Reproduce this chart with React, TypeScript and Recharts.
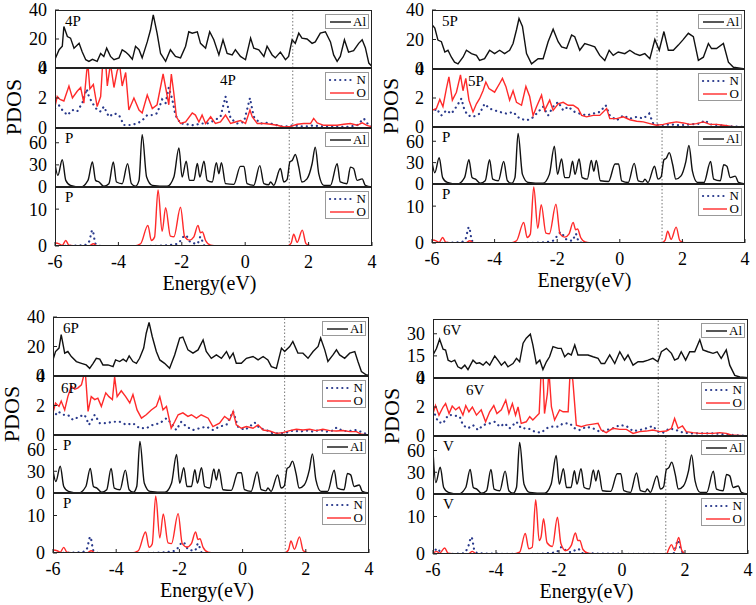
import { LineChart, Line, XAxis, YAxis, ReferenceLine } from 'recharts'

type Pt = [number, number]

const energyTicks = [-6, -4, -2, 0, 2, 4]

// top row: Al PDOS of the doped cells
const al4P: Pt[] = [[-6,6],[-5.87,12.6],[-5.77,15],[-5.72,28.6],[-5.61,21.7],[-5.51,20.6],[-5.4,13.7],[-5.24,17],[-5.14,11],[-5.03,5.7],[-4.93,4.6],[-4.82,6],[-4.67,4.6],[-4.56,10],[-4.46,8],[-4.37,13.7],[-4.25,8],[-4.14,5.7],[-3.98,7],[-3.88,12.6],[-3.77,11],[-3.67,9],[-3.56,6],[-3.46,15],[-3.35,12.6],[-3.25,7],[-3.09,18],[-2.99,26],[-2.9,36.6],[-2.78,24],[-2.67,10],[-2.51,4.6],[-2.36,12.6],[-2.2,8],[-2.04,7],[-1.88,15],[-1.78,25],[-1.67,24],[-1.51,25],[-1.41,17],[-1.25,13.7],[-1.12,25],[-0.99,19.5],[-0.83,9],[-0.7,19.5],[-0.57,10],[-0.41,9],[-0.31,12.6],[-0.15,8],[0.01,5.7],[0.17,20.6],[0.27,13.7],[0.43,12.6],[0.59,8],[0.69,15],[0.85,9],[0.95,7],[1.11,11],[1.27,5.7],[1.37,8],[1.48,19.5],[1.58,17],[1.69,24],[1.79,20.6],[1.95,20],[2.11,17],[2.21,18],[2.37,24],[2.53,25],[2.69,18],[2.79,9],[2.9,4.6],[3,8],[3.13,19.5],[3.26,11],[3.42,12],[3.58,17],[3.69,19.5],[3.79,14],[3.9,3.4],[4,1]]
const al5P: Pt[] = [[-6,30],[-5.91,27.7],[-5.81,19.6],[-5.7,18.5],[-5.59,11.5],[-5.49,12.7],[-5.38,8],[-5.28,4.6],[-5.17,3.5],[-5.01,8],[-4.9,12.7],[-4.74,10.4],[-4.58,9.2],[-4.48,5.8],[-4.32,7],[-4.16,12.7],[-4,10.4],[-3.84,12.7],[-3.68,10.4],[-3.52,12.7],[-3.41,17.3],[-3.3,26.6],[-3.22,34.2],[-3.11,28.9],[-2.98,10.4],[-2.82,3.5],[-2.61,7],[-2.45,7],[-2.29,18.5],[-2.13,27],[-1.97,18.5],[-1.86,15],[-1.7,13.9],[-1.54,23],[-1.44,21.9],[-1.28,12.7],[-1.12,17.3],[-0.96,16.2],[-0.8,15],[-0.64,9.2],[-0.48,5.8],[-0.34,12.7],[-0.21,9.2],[-0.05,11.5],[0.16,10.4],[0.32,12.7],[0.48,10.4],[0.64,9.2],[0.8,10.4],[0.96,7],[1.12,20],[1.26,12.7],[1.41,25.4],[1.55,12.7],[1.71,12.7],[1.87,16.2],[2.01,19.6],[2.19,24.2],[2.35,21.9],[2.51,5.8],[2.67,8],[2.83,17.3],[2.93,13.9],[3.09,13.9],[3.31,17.3],[3.47,4.6],[3.63,1.2],[3.84,0.5],[4,0]]
const al6P: Pt[] = [[-6,10.9],[-5.92,16.6],[-5.81,18.9],[-5.74,28],[-5.63,15.5],[-5.53,16.6],[-5.42,13.2],[-5.26,9.8],[-5.1,8.6],[-4.95,7.5],[-4.84,5.2],[-4.73,8.6],[-4.63,12],[-4.52,11.4],[-4.42,7.5],[-4.26,7.5],[-4.1,6.4],[-4.02,10.9],[-3.89,9.8],[-3.78,11.4],[-3.68,9.8],[-3.59,13.6],[-3.47,9.8],[-3.36,8.6],[-3.26,12],[-3.13,18.9],[-3.05,29],[-2.96,36.4],[-2.86,26.8],[-2.73,16.6],[-2.62,10.9],[-2.47,8.6],[-2.31,5.2],[-2.15,14.3],[-1.99,25.7],[-1.89,26.4],[-1.73,17.7],[-1.57,15.5],[-1.41,17.7],[-1.25,24.5],[-1.15,16.6],[-0.99,12],[-0.83,14.3],[-0.67,12],[-0.51,16.6],[-0.41,12],[-0.3,15.5],[-0.2,8.6],[-0.04,8.6],[0.12,12],[0.33,13.2],[0.49,10.9],[0.65,13.2],[0.8,10.9],[0.91,6.4],[1.07,5.2],[1.23,18.9],[1.33,16.6],[1.49,20],[1.59,23.4],[1.75,15.5],[1.91,15.5],[2.07,12],[2.23,16.6],[2.39,20],[2.47,25.7],[2.6,17.7],[2.7,9.8],[2.86,14.3],[2.97,17.7],[3.07,14.3],[3.23,12],[3.39,15.5],[3.55,16.6],[3.65,9.8],[3.76,3],[3.92,0.7],[4,0.5]]
const al6V: Pt[] = [[-6,15.6],[-5.89,20],[-5.79,26.3],[-5.68,19.5],[-5.6,19],[-5.52,12.1],[-5.42,11],[-5.31,12.1],[-5.21,7.6],[-5.1,6.4],[-4.99,8.7],[-4.89,5.7],[-4.73,12.1],[-4.62,9.8],[-4.52,10.3],[-4.41,8.7],[-4.31,11],[-4.2,8.7],[-4.04,14.9],[-3.94,12.1],[-3.83,8.7],[-3.72,11],[-3.62,7.6],[-3.46,9.8],[-3.35,13.3],[-3.25,11],[-3.14,23.6],[-3.04,27],[-2.91,29.7],[-2.83,22.4],[-2.72,9.8],[-2.61,12.1],[-2.51,5.7],[-2.4,11],[-2.3,14.4],[-2.19,21.3],[-2.03,20.1],[-1.93,20.1],[-1.82,14.4],[-1.71,16.7],[-1.61,15.6],[-1.5,22.4],[-1.4,15.6],[-1.24,15.6],[-1.08,15.6],[-0.92,14.4],[-0.76,13.3],[-0.66,9.8],[-0.55,9.8],[-0.39,15.6],[-0.23,9.8],[-0.07,17.8],[0.08,12.1],[0.19,15.6],[0.35,8.7],[0.51,11],[0.67,11],[0.83,12.1],[0.98,13.3],[1.14,11],[1.25,17.8],[1.41,20.1],[1.57,16.7],[1.67,12.1],[1.78,13.3],[1.88,17.8],[2.02,12.1],[2.15,17.8],[2.31,17.8],[2.47,25.9],[2.57,19],[2.73,17.8],[2.89,16.7],[3.02,17.8],[3.15,13.3],[3.31,19],[3.42,8.7],[3.58,1.8],[3.74,0.7],[4,0.2]]

// second row: N and O PDOS of the doped cells
const o4P: Pt[] = [[-6,1.43],[-5.93,2.1],[-5.84,1.9],[-5.72,1.8],[-5.56,2.8],[-5.45,2],[-5.3,2.45],[-5.19,2.7],[-5.09,1.66],[-5,3.8],[-4.96,4.2],[-4.9,2.6],[-4.79,2.9],[-4.67,1.43],[-4.56,2.1],[-4.49,4.5],[-4.4,4.3],[-4.35,2.8],[-4.25,4.3],[-4.14,2.7],[-4.04,3.8],[-3.96,4.2],[-3.88,2.8],[-3.77,3.7],[-3.67,1.2],[-3.51,2],[-3.35,1.2],[-3.25,1],[-3.09,2.2],[-2.93,1.3],[-2.78,1.55],[-2.59,3.6],[-2.51,2.7],[-2.41,1.55],[-2.33,3.6],[-2.25,2.3],[-2.17,0.75],[-2.04,0.3],[-1.88,0.4],[-1.67,1],[-1.57,0.86],[-1.46,0.4],[-1.36,0.86],[-1.25,0.3],[-1.09,0.75],[-0.94,0.3],[-0.78,0.4],[-0.62,0.86],[-0.46,0.3],[-0.31,0.4],[-0.15,0.5],[0.01,0.3],[0.15,1.2],[0.22,0.75],[0.38,0.3],[0.59,0.3],[0.8,0.25],[1.01,0.18],[1.22,0.07],[1.43,0.11],[1.64,0.25],[1.85,0.3],[2.06,0.3],[2.16,0.64],[2.27,0.34],[2.48,0.18],[2.69,0.18],[2.9,0.18],[3.11,0.25],[3.32,0.3],[3.53,0.18],[3.69,0.34],[3.84,0.18],[4,0.07]]
const n4P: Pt[] = [[-6,1.3],[-5.87,1.5],[-5.77,1.2],[-5.61,0.86],[-5.45,1.2],[-5.3,1.1],[-5.14,1.66],[-5,2.6],[-4.93,2.1],[-4.82,1.66],[-4.67,1.2],[-4.56,1.1],[-4.46,1.43],[-4.3,0.75],[-4.14,0.98],[-3.98,0.86],[-3.83,0.2],[-3.62,0.2],[-3.41,0.3],[-3.25,0.5],[-3.09,0.86],[-2.93,0.86],[-2.78,0.98],[-2.62,1.9],[-2.51,1.66],[-2.41,2.7],[-2.3,1.9],[-2.2,0.86],[-2.04,0.3],[-1.83,0.25],[-1.62,0.18],[-1.41,0.3],[-1.2,0.3],[-0.99,0.48],[-0.78,0.75],[-0.62,2.1],[-0.46,0.64],[-0.25,0.3],[-0.04,0.4],[0.15,2],[0.27,0.75],[0.48,0.3],[0.69,0.34],[0.9,0.25],[1.11,0.11],[1.32,0.11],[1.53,0.18],[1.74,0.11],[1.95,0.11],[2.16,0.18],[2.37,0.11],[2.69,0.11],[2.9,0.07],[3.21,0.07],[3.53,0.18],[3.74,0.64],[3.9,0.18],[4,0.07]]
const o5P: Pt[] = [[-6,1.15],[-5.86,1.27],[-5.75,1.9],[-5.65,1.4],[-5.54,2.65],[-5.46,3.45],[-5.35,1.85],[-5.22,2.4],[-5.09,3.6],[-5.01,2.5],[-4.92,3.35],[-4.82,1.85],[-4.69,1.04],[-4.58,1.6],[-4.48,1.95],[-4.37,2.5],[-4.28,3.1],[-4.18,2.65],[-4,2.4],[-3.84,3],[-3.75,3.35],[-3.64,2.8],[-3.52,1.85],[-3.41,2.5],[-3.3,1.7],[-3.14,1.5],[-3,2.8],[-2.88,2.1],[-2.77,0.8],[-2.66,1.4],[-2.5,2.2],[-2.4,1.15],[-2.24,1.85],[-2.13,1.15],[-1.97,1.6],[-1.81,1.7],[-1.65,1.5],[-1.49,1.5],[-1.33,1.27],[-1.22,0.8],[-1.06,0.7],[-0.85,0.8],[-0.64,0.8],[-0.42,1.27],[-0.32,0.58],[-0.1,0.58],[0.11,0.7],[0.32,0.5],[0.54,0.4],[0.75,0.35],[0.96,0.23],[1.17,0.12],[1.39,0.18],[1.6,0.28],[1.81,0.35],[2.03,0.28],[2.24,0.18],[2.45,0.23],[2.67,0.35],[2.88,0.18],[3.09,0.18],[3.31,0.12],[3.52,0.05],[3.73,0],[4,0]]
const n5P: Pt[] = [[-6,0.92],[-5.86,1.27],[-5.7,0.8],[-5.54,1.15],[-5.38,0.92],[-5.22,1.4],[-5.06,1.96],[-4.96,1.15],[-4.85,0.8],[-4.69,0.7],[-4.48,0.92],[-4.32,1.6],[-4.16,1.27],[-4,1.15],[-3.84,1.04],[-3.62,0.92],[-3.41,1.04],[-3.2,0.58],[-2.98,0.46],[-2.82,0.58],[-2.66,0.92],[-2.45,1.4],[-2.29,0.8],[-2.13,1.4],[-1.97,1.73],[-1.81,1.15],[-1.65,1.4],[-1.44,1.04],[-1.28,0.92],[-1.06,0.8],[-0.85,0.92],[-0.64,1.04],[-0.45,1.5],[-0.32,0.8],[-0.1,0.46],[0.11,0.8],[0.32,0.58],[0.54,0.7],[0.75,0.58],[0.94,0.92],[1.07,0.23],[1.28,0.12],[1.6,0.18],[1.92,0.12],[2.24,0.18],[2.56,0.23],[2.72,0.46],[2.88,0.18],[3.2,0.12],[3.52,0.05],[4,0]]
const o6P: Pt[] = [[-6,1.5],[-5.92,2.17],[-5.81,1.94],[-5.74,2.3],[-5.63,1.7],[-5.53,2.6],[-5.42,3.3],[-5.31,3.1],[-5.21,3.2],[-5.1,3.4],[-5.03,4],[-4.97,4.05],[-4.89,1.6],[-4.79,2.6],[-4.68,2.4],[-4.58,2.5],[-4.47,1.94],[-4.33,2.86],[-4.23,2.6],[-4.12,2.4],[-4.05,3.95],[-3.97,2.6],[-3.84,3],[-3.7,2.6],[-3.57,2.17],[-3.47,2.74],[-3.34,1.7],[-3.2,1.14],[-3.05,1.37],[-2.89,1.7],[-2.73,1.94],[-2.62,2.6],[-2.52,1.7],[-2.41,1.94],[-2.26,0.46],[-2.15,0.9],[-2.04,1.37],[-1.89,1.5],[-1.73,1.26],[-1.62,1.37],[-1.46,1.14],[-1.31,1.37],[-1.09,1.14],[-0.94,0.57],[-0.73,0.8],[-0.57,1.26],[-0.41,1],[-0.3,1.6],[-0.2,0.69],[-0.04,0.46],[0.12,0.57],[0.33,0.46],[0.49,0.69],[0.65,0.34],[0.86,0.27],[1.07,0.11],[1.28,0.16],[1.49,0.3],[1.7,0.39],[1.91,0.34],[2.12,0.39],[2.33,0.3],[2.54,0.39],[2.76,0.3],[2.97,0.27],[3.18,0.3],[3.39,0.23],[3.6,0.23],[3.76,0.05],[4,0]]
const n6P: Pt[] = [[-6,1.14],[-5.84,1.6],[-5.68,1.37],[-5.53,1.37],[-5.37,1.03],[-5.16,1.26],[-5,1.37],[-4.86,0.69],[-4.68,1.37],[-4.52,0.8],[-4.31,0.8],[-4.1,0.9],[-3.89,0.9],[-3.68,0.69],[-3.47,0.8],[-3.26,0.46],[-3.05,0.46],[-2.84,0.69],[-2.62,0.8],[-2.41,1.14],[-2.26,0.8],[-2.1,0.34],[-1.94,0.9],[-1.78,0.57],[-1.57,0.34],[-1.36,0.46],[-1.15,0.57],[-0.94,0.34],[-0.73,0.57],[-0.51,0.69],[-0.3,1.6],[-0.15,0.57],[0.07,0.34],[0.22,0.57],[0.38,0.85],[0.54,0.46],[0.75,0.34],[0.96,0.11],[1.17,0.11],[1.38,0.16],[1.59,0.3],[1.81,0.23],[2.02,0.3],[2.23,0.23],[2.44,0.34],[2.65,0.23],[2.86,0.3],[2.97,0.5],[3.18,0.27],[3.39,0.27],[3.6,0.34],[4,0]]
const o6V: Pt[] = [[-6,1.55],[-5.92,2.1],[-5.81,1.44],[-5.68,2],[-5.6,2.24],[-5.49,1.55],[-5.39,2.06],[-5.28,1.8],[-5.17,2],[-5.05,1.44],[-4.96,2.1],[-4.86,1.67],[-4.75,2],[-4.62,1.44],[-4.47,1.8],[-4.33,0.98],[-4.2,1.67],[-4.07,2.1],[-3.97,1.55],[-3.83,1.8],[-3.69,2.47],[-3.59,1.55],[-3.48,2.24],[-3.38,1.44],[-3.3,2],[-3.2,0.87],[-3.04,0.98],[-2.93,1.33],[-2.83,1.1],[-2.63,1.55],[-2.56,4.75],[-2.51,4.5],[-2.46,1.55],[-2.37,2.9],[-2.32,4.5],[-2.24,2],[-2.14,1.1],[-1.98,1.8],[-1.87,1.67],[-1.71,1.67],[-1.64,4.75],[-1.56,3.8],[-1.45,0.75],[-1.29,0.64],[-1.13,0.75],[-0.92,0.82],[-0.76,0.87],[-0.66,0.41],[-0.5,0.23],[-0.29,0.53],[-0.07,0.46],[0.14,0.46],[0.35,0.18],[0.56,0.3],[0.77,0.34],[0.98,0.41],[1.2,0.3],[1.41,0.34],[1.57,0.53],[1.67,1.21],[1.78,0.53],[1.92,0.69],[2.04,0.3],[2.25,0.23],[2.47,0.18],[2.68,0.18],[2.89,0.18],[3.1,0.23],[3.31,0.18],[3.47,0.07],[4,0]]
const n6V: Pt[] = [[-6,1.8],[-5.84,0.98],[-5.68,0.87],[-5.52,1.44],[-5.37,1.44],[-5.15,1.33],[-5.05,0.75],[-4.89,0.53],[-4.73,0.75],[-4.57,0.41],[-4.41,0.75],[-4.2,0.87],[-4.04,0.98],[-3.88,0.64],[-3.72,0.87],[-3.57,0.53],[-3.35,0.98],[-3.2,0.53],[-2.98,0.53],[-2.77,0.3],[-2.56,0.23],[-2.4,0.53],[-2.24,0.64],[-2.03,0.64],[-1.87,0.87],[-1.66,0.87],[-1.5,0.53],[-1.34,0.41],[-1.13,0.64],[-0.92,0.53],[-0.71,0.3],[-0.5,0.41],[-0.29,0.53],[-0.07,0.75],[0.14,0.69],[0.35,0.34],[0.56,0.41],[0.77,0.53],[0.98,0.69],[1.14,0.3],[1.3,0.23],[1.51,0.53],[1.72,0.41],[1.94,0.23],[2.25,0.18],[2.89,0.18],[3.52,0.07],[4,0]]

// lower two rows: reference cell (P) and V
const alP: Pt[] = [[-6,31.5],[-5.91,15.8],[-5.77,37],[-5.66,9],[-5.51,2.2],[-5.19,0],[-4.96,9],[-4.82,34],[-4.72,9],[-4.61,6.8],[-4.46,1],[-4.3,4.5],[-4.16,34],[-4.06,6.8],[-3.88,4.5],[-3.71,31.5],[-3.59,4.5],[-3.46,1],[-3.35,9],[-3.25,71],[-3.11,13.5],[-2.93,2.2],[-2.46,1],[-2.25,13.5],[-2.09,53],[-1.99,13.5],[-1.86,35],[-1.76,9],[-1.62,9],[-1.51,32],[-1.43,13.5],[-1.3,35],[-1.2,9],[-1.04,6.8],[-0.91,33],[-0.83,18],[-0.75,33],[-0.62,4.5],[-0.36,3.6],[-0.15,28],[-0.04,28],[0.06,4.5],[0.27,2.2],[0.46,29],[0.59,4.5],[0.74,3],[0.8,6.8],[0.9,2.2],[1.11,25],[1.22,6.8],[1.32,9.9],[1.41,34],[1.48,36],[1.58,44],[1.69,27],[1.79,6.8],[1.95,11],[2.11,31.5],[2.21,54],[2.32,18],[2.48,2.2],[2.69,2.2],[2.9,31.5],[3,6.8],[3.21,4.5],[3.32,27],[3.42,25],[3.53,9],[3.69,11],[3.79,2.2],[4,0]]
const oP: Pt[] = [[-6,0.8],[-5.87,0.6],[-5.77,0.2],[-5.66,1.5],[-5.56,0.2],[-5.3,0],[-4.93,0],[-4.79,0.6],[-4.67,0],[-3.51,0],[-3.3,0.6],[-3.07,5.6],[-2.96,1.5],[-2.86,2.4],[-2.75,15.2],[-2.62,4],[-2.51,10.4],[-2.36,2.7],[-2.25,2.5],[-2.04,10.5],[-1.91,2.5],[-1.76,1.6],[-1.62,2.5],[-1.49,5.6],[-1.41,3.6],[-1.35,3.8],[-1.25,1.5],[-1.09,0.2],[-0.88,0],[1.32,0],[1.45,0.8],[1.53,3.2],[1.64,1],[1.8,4.3],[1.92,0.6],[2.11,0],[4,0]]
const nP: Pt[] = [[-6,0],[-5.09,0.2],[-4.93,1.1],[-4.82,4.3],[-4.72,0.6],[-4.56,0],[-3.2,0],[-2.46,0.2],[-2.14,0.6],[-1.88,2.9],[-1.73,1.1],[-1.51,0.6],[-1.41,2.5],[-1.3,0.2],[-0.99,0],[4,0]]
const alV: Pt[] = [[-6, 59], ...alP.slice(1)]
const oV: Pt[] = [[-6,0.2],[-5.89,0.7],[-5.79,0.2],[-5.63,1.6],[-5.52,0.2],[-5.26,0],[-4.89,0],[-4.75,0.7],[-4.62,0],[-3.46,0],[-3.25,0.5],[-3.07,5.5],[-2.96,1.4],[-2.85,1.8],[-2.74,14.5],[-2.63,3.6],[-2.57,4.5],[-2.49,9.4],[-2.38,3],[-2.21,2],[-2.05,9.8],[-1.94,2.8],[-1.79,0.9],[-1.61,2.3],[-1.48,5.6],[-1.4,3.6],[-1.34,3.6],[-1.24,1.2],[-1.08,0.2],[-0.81,0],[1.41,0],[1.49,1.4],[1.57,2.5],[1.67,0.9],[1.8,4.4],[1.9,0.9],[2.04,0],[4,0]]
const nV: Pt[] = [[-6,0],[-5.95,0.9],[-5.84,1.4],[-5.74,0],[-5.05,0.2],[-4.89,1.8],[-4.78,4.5],[-4.68,0.9],[-4.57,0.2],[-3.04,0],[-2.4,0.2],[-2.08,0.5],[-1.93,1.8],[-1.77,0.9],[-1.61,0.5],[-1.4,1.4],[-1.24,0.2],[1.62,0],[1.78,3.6],[1.88,0.9],[2.04,0],[4,0]]

// dotted marker (upper rows, lower rows)
const fermiUpper = [1.5, 1.19, 1.33, 1.15]
const fermiLower = [1.39, 1.35, 1.35, 1.39]

const FONT = '"Liberation Serif", "Times New Roman", serif'
const BLACK = '#111'
const RED = '#ff2a2a'
const BLUE = '#2a3a8c'
const DOTS = '0.1 5'
const YW = 44
const M = 10
const XH = 30

type Series = { data: Pt[]; color: string; dotted?: boolean }
type LegendItem = { label: string; color: string; dotted?: boolean }

const alLegend: LegendItem[] = [{ label: 'Al', color: BLACK }]
const noLegend: LegendItem[] = [
  { label: 'N', color: BLUE, dotted: true },
  { label: 'O', color: RED },
]

const panels = [
  { x0: 55, x1: 372, ys: [10, 68, 128, 187, 246], tag: '4P', tagX: 165, base: 'P', al: al4P, n: n4P, o: o4P, alR: alP, nR: nP, oR: oP, topTicks: [0, 20, 40] },
  { x0: 432, x1: 745, ys: [10, 69, 127, 184, 243], tag: '5P', tagX: 36, base: 'P', al: al5P, n: n5P, o: o5P, alR: alP, nR: nP, oR: oP, topTicks: [0, 20, 40] },
  { x0: 53, x1: 369, ys: [317, 376, 435, 493, 553], tag: '6P', tagX: 8, base: 'P', al: al6P, n: n6P, o: o6P, alR: alP, nR: nP, oR: oP, topTicks: [0, 20, 40] },
  { x0: 433, x1: 748, ys: [319, 378, 436, 494, 554], tag: '6V', tagX: 33, base: 'V', al: al6V, n: n6V, o: o6V, alR: alV, nR: nV, oR: oV, topTicks: [0, 15, 30] },
]

const tickStyle = { fill: '#000', fontSize: 18, fontFamily: FONT }

function Legend({ right, top, items }: { right: number; top: number; items: LegendItem[] }) {
  return (
    <div style={{ position: 'absolute', left: right - 47, top, width: 44, border: '1px solid #999', background: '#fff', padding: '0 2px', boxSizing: 'border-box' }}>
      {items.map((it) => (
        <div key={it.label} style={{ display: 'flex', alignItems: 'center', height: 13 }}>
          <svg width={27} height={8}>
            <line x1={2} x2={26} y1={4} y2={4} stroke={it.color} strokeWidth={it.dotted ? 2.2 : 1.4}
              strokeDasharray={it.dotted ? DOTS : undefined} strokeLinecap={it.dotted ? 'round' : 'butt'} />
          </svg>
          <span style={{ fontFamily: FONT, fontSize: 13, lineHeight: '13px', marginLeft: 2 }}>{it.label}</span>
        </div>
      ))}
    </div>
  )
}

function Sub(props: {
  x0: number; x1: number; y0: number; y1: number; series: Series[]; yMax: number; yTicks: number[]
  fermi: number; last: boolean; smooth: boolean
}) {
  const { x0, x1, y0, y1, series, yMax, yTicks, fermi, last, smooth } = props
  const w = x1 - x0
  const h = y1 - y0
  return (
    <div style={{ position: 'absolute', left: x0 - YW, top: y0 - M }}>
      <LineChart width={YW + w + 6} height={M + h + (last ? XH : M)}
        margin={{ top: M, right: 6, bottom: last ? 0 : M, left: 0 }}>
        <XAxis dataKey="e" type="number" domain={[-6, 4]} ticks={energyTicks} allowDataOverflow
          axisLine={false} tickSize={-4} tickMargin={13} tickLine={{ stroke: '#222' }}
          height={last ? XH : 0} tick={last ? tickStyle : false} interval={0} />
        <YAxis type="number" domain={[0, yMax]} ticks={yTicks} allowDataOverflow width={YW}
          axisLine={false} tickSize={-4} tickMargin={12} tickLine={{ stroke: '#222' }}
          tick={tickStyle} interval={0} />
        <ReferenceLine x={fermi} stroke="#777" strokeDasharray="1.5 2" />
        {series.map((s, i) => (
          <Line key={i} data={s.data.map(([e, v]) => ({ e, v }))} dataKey="v"
            type={smooth ? 'monotone' : 'linear'} stroke={s.color}
            strokeWidth={s.dotted ? 2.2 : 1.4} strokeDasharray={s.dotted ? DOTS : undefined}
            strokeLinecap="round" dot={false} activeDot={false} isAnimationActive={false} />
        ))}
      </LineChart>
      <div style={{ position: 'absolute', left: YW, top: M, width: w, height: h, border: '1px solid #222', boxSizing: 'border-box', pointerEvents: 'none' }} />
    </div>
  )
}

const tagStyle = { position: 'absolute' as const, fontFamily: FONT, fontSize: 15, lineHeight: '15px' }

export default function App() {
  return (
    <div style={{ position: 'absolute', left: 0, top: 0, width: 756, height: 605, background: '#fff', overflow: 'hidden' }}>
      {panels.map((p, k) => {
        const rows = [
          { series: [{ data: p.al, color: BLACK }], yMax: 40, yTicks: p.topTicks, fermi: fermiUpper[k], smooth: false, legend: alLegend },
          { series: [{ data: p.n, color: BLUE, dotted: true }, { data: p.o, color: RED }], yMax: 4, yTicks: [0, 2, 4], fermi: fermiUpper[k], smooth: false, legend: noLegend },
          { series: [{ data: p.alR, color: BLACK }], yMax: 80, yTicks: [0, 30, 60], fermi: fermiLower[k], smooth: true, legend: alLegend },
          { series: [{ data: p.nR, color: BLUE, dotted: true }, { data: p.oR, color: RED }], yMax: 16, yTicks: [0, 10], fermi: fermiLower[k], smooth: true, legend: noLegend },
        ]
        const midY = (p.ys[0] + p.ys[4]) / 2
        return (
          <div key={k}>
            {rows.map((r, i) => (
              <Sub key={i} x0={p.x0} x1={p.x1} y0={p.ys[i]} y1={p.ys[i + 1]} series={r.series}
                yMax={r.yMax} yTicks={r.yTicks} fermi={r.fermi} last={i === 3} smooth={r.smooth} />
            ))}
            {rows.map((r, i) => (
              <Legend key={'l' + i} right={p.x1} top={p.ys[i] + 4} items={r.legend} />
            ))}
            <div style={{ ...tagStyle, left: p.x0 + 10, top: p.ys[0] + 4 }}>{p.tag}</div>
            <div style={{ ...tagStyle, left: p.x0 + p.tagX, top: p.ys[1] + 5 }}>{p.tag}</div>
            <div style={{ ...tagStyle, left: p.x0 + 10, top: p.ys[2] + 3 }}>{p.base}</div>
            <div style={{ ...tagStyle, left: p.x0 + 10, top: p.ys[3] + 3 }}>{p.base}</div>
            <div style={{ position: 'absolute', left: (p.x0 + p.x1) / 2 - 64, top: p.ys[4] + 26, width: 120, textAlign: 'center', fontFamily: FONT, fontSize: 20, lineHeight: '22px' }}>
              Energy(eV)
            </div>
            <div style={{ position: 'absolute', left: p.x0 - 41 - 40, top: midY - 33, width: 80, textAlign: 'center', fontFamily: FONT, fontSize: 22, lineHeight: '24px', transform: 'rotate(-90deg)' }}>
              PDOS
            </div>
          </div>
        )
      })}
    </div>
  )
}
